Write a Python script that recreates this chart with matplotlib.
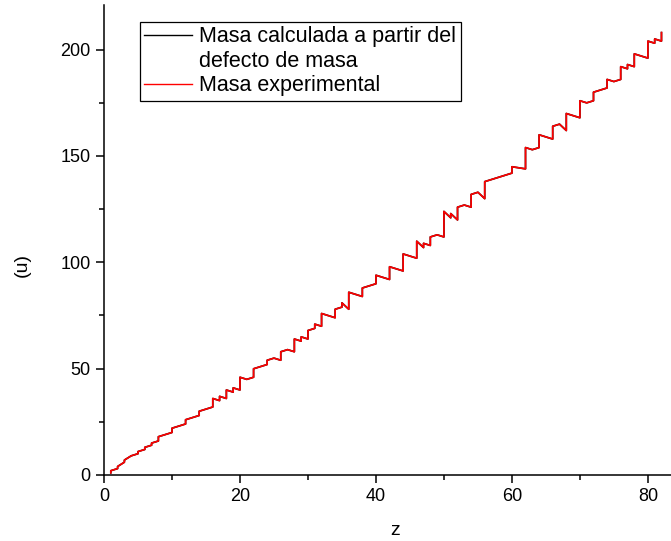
import matplotlib
matplotlib.use('Agg')
import matplotlib.pyplot as plt
from matplotlib.lines import Line2D
from matplotlib.ticker import MultipleLocator

plt.rcParams['font.family'] = ['Liberation Sans', 'DejaVu Sans']

# Isótopos ordenados por Z y luego por A
z = [1, 1, 2, 2, 3, 3, 4, 5, 5, 6, 6, 7, 7, 8, 8, 8, 9, 10, 10, 10,
     11, 12, 12, 12, 13, 14, 14, 14, 15, 16, 16, 16, 16, 17, 17,
     18, 18, 18, 19, 19, 20, 20, 20, 20, 20, 21,
     22, 22, 22, 22, 22, 23, 24, 24, 24, 25, 26, 26, 26, 26, 27,
     28, 28, 28, 28, 28, 29, 29, 30, 30, 30, 30, 31, 31,
     32, 32, 32, 32, 32, 33, 34, 34, 34, 34, 35, 35,
     36, 36, 36, 36, 36, 36, 37, 38, 38, 38, 38, 39, 40, 40, 40, 40, 41,
     42, 42, 42, 42, 42, 42, 44, 44, 44, 44, 44, 44, 44, 45,
     46, 46, 46, 46, 46, 46, 47, 47, 48, 48, 48, 48, 49,
     50, 50, 50, 50, 50, 50, 50, 50, 50, 50, 51, 51,
     52, 52, 52, 52, 52, 52, 53, 54, 54, 54, 54, 54, 54, 55,
     56, 56, 56, 56, 56, 56, 56, 57, 58, 59, 60, 60, 60, 60,
     62, 62, 62, 62, 62, 62, 62, 63, 64, 64, 64, 64, 64, 64, 65,
     66, 66, 66, 66, 66, 66, 67, 68, 68, 68, 68, 68, 68, 69,
     70, 70, 70, 70, 70, 70, 70, 71, 72, 72, 72, 72, 72, 73,
     74, 74, 74, 74, 75, 76, 76, 76, 76, 76, 76, 77, 77,
     78, 78, 78, 78, 78, 79, 80, 80, 80, 80, 80, 80, 80, 81, 81,
     82, 82, 82, 82]

masa_exp = [1.00783, 2.01410, 3.01603, 4.00260, 6.01512, 7.01600, 9.01218,
            10.01294, 11.00931, 12.00000, 13.00335, 14.00307, 15.00011,
            15.99491, 16.99913, 17.99916, 18.99840, 19.99244, 20.99385, 21.99139,
            22.98977, 23.98504, 24.98584, 25.98259, 26.98154,
            27.97693, 28.97649, 29.97377, 30.97376,
            31.97207, 32.97146, 33.96787, 35.96708, 34.96885, 36.96590,
            35.96755, 37.96273, 39.96238, 38.96371, 40.96183,
            39.96259, 41.95862, 42.95877, 43.95548, 45.95369, 44.95591,
            45.95263, 46.95176, 47.94795, 48.94787, 49.94479, 50.94396,
            51.94051, 52.94065, 53.93888, 54.93805,
            53.93961, 55.93494, 56.93539, 57.93328, 58.93320,
            57.93535, 59.93079, 60.93106, 61.92835, 63.92797, 62.92960, 64.92779,
            63.92915, 65.92603, 66.92713, 67.92484, 68.92558, 70.92470,
            69.92425, 71.92208, 72.92346, 73.92118, 75.92140, 74.92160,
            73.92248, 75.91921, 76.91991, 77.91731, 78.91834, 80.91629,
            77.92039, 79.91638, 81.91348, 82.91413, 83.91151, 85.91061, 84.91179,
            83.91343, 85.90926, 86.90888, 87.90561, 88.90585,
            89.90470, 90.90565, 91.90504, 93.90632, 92.90638,
            91.90681, 93.90509, 94.90584, 95.90468, 96.90602, 97.90541,
            95.90760, 97.90529, 98.90594, 99.90422, 100.90558, 101.90435, 103.90543,
            102.90550,
            101.90561, 103.90404, 104.90508, 105.90348, 107.90389, 109.90515,
            106.90510, 108.90476,
            107.90418, 109.90301, 110.90418, 111.90276, 112.90406,
            111.90482, 113.90278, 114.90334, 115.90174, 116.90295,
            117.90161, 118.90331, 119.90220, 121.90344, 123.90527,
            120.90381, 122.90422,
            119.90402, 121.90304, 122.90427, 123.90282, 124.90443, 125.90331,
            126.90447,
            125.90430, 127.90353, 128.90478, 129.90351, 130.90508, 131.90415,
            132.90545,
            129.90632, 131.90506, 133.90451, 134.90569, 135.90457, 136.90583, 137.90524,
            138.90636, 139.90544, 140.90766,
            141.90773, 142.90982, 143.91009, 144.91258,
            143.91201, 146.91490, 147.91483, 148.91719, 149.91728, 151.91974, 153.92222,
            152.92124,
            153.92087, 154.92263, 155.92213, 156.92397, 157.92411, 159.92706,
            158.92535,
            157.92441, 159.92520, 160.92694, 161.92681, 162.92874, 163.92918,
            164.93033,
            161.92879, 163.92921, 165.93030, 166.93205, 167.93238, 169.93547,
            168.93422,
            167.93389, 169.93477, 170.93633, 171.93639, 172.93822, 173.93887, 175.94258,
            174.94078,
            175.94141, 176.94323, 177.94371, 178.94582, 179.94656,
            180.94800,
            181.94821, 182.95022, 183.95093, 185.95436,
            184.95296,
            185.95384, 186.95575, 187.95584, 188.95815, 189.95845, 191.96148,
            190.96059, 192.96292,
            191.96104, 193.96268, 194.96479, 195.96495, 197.96789,
            196.96657,
            195.96583, 197.96677, 198.96828, 199.96833, 200.97030, 201.97064, 203.97349,
            202.97234, 204.97443,
            203.97304, 205.97447, 206.97590, 207.97665]

# Z*m(1H) + N*m(n) - defecto de masa, redondeado
masa_calc = [round(m, 2) for m in masa_exp]

fig = plt.figure(figsize=(6.71, 5.41), dpi=100)
ax = fig.add_axes([0.155, 0.122, 0.845, 0.869])

ax.plot(z, masa_calc, color='black', linewidth=1.2)
ax.plot(z, masa_exp, color='red', linewidth=1.2)

ax.set_xlim(0, 83.4)
ax.set_ylim(0, 221)
ax.xaxis.set_major_locator(MultipleLocator(20))
ax.xaxis.set_minor_locator(MultipleLocator(10))
ax.yaxis.set_major_locator(MultipleLocator(50))
ax.yaxis.set_minor_locator(MultipleLocator(25))
ax.tick_params(which='major', direction='out', length=6, width=1.1, labelsize=13)
ax.tick_params(which='minor', direction='out', length=3.5, width=1.1)
for s in ['top', 'right']:
    ax.spines[s].set_visible(False)
for s in ['left', 'bottom']:
    ax.spines[s].set_linewidth(1.1)

ax.set_xlabel('z', fontsize=14)
ax.set_ylabel('(u)', fontsize=14)
ax.xaxis.set_label_coords(0.513, -0.1)
ax.yaxis.set_label_coords(-0.13, 0.447)

handles = [Line2D([], [], color='black', linewidth=1.0),
           Line2D([], [], color='none'),
           Line2D([], [], color='red', linewidth=1.0)]
labels = ['Masa calculada a partir del', 'defecto de masa', 'Masa experimental']
leg = ax.legend(handles, labels, loc='upper left', bbox_to_anchor=(0.0635, 0.964),
                borderaxespad=0, fontsize=15.5, frameon=True, fancybox=False,
                edgecolor='black', framealpha=1, handlelength=2.2,
                handletextpad=0.35, labelspacing=0.17, borderpad=0.2)
leg.get_frame().set_linewidth(0.9)

fig.savefig('out.png', dpi=100)
